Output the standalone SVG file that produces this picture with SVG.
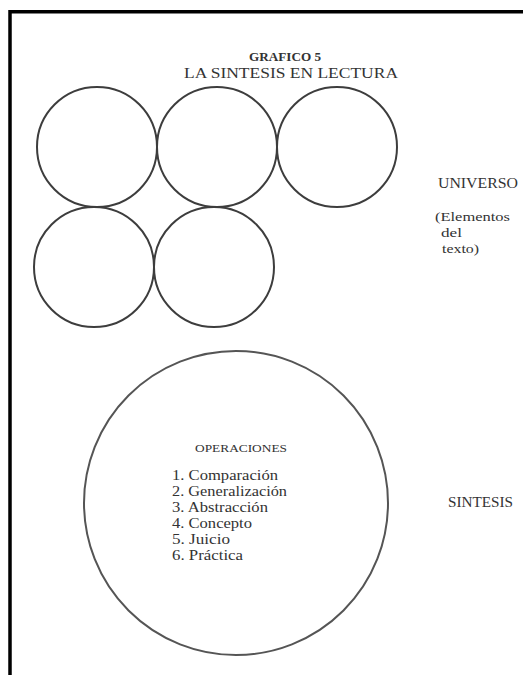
<svg xmlns="http://www.w3.org/2000/svg" width="523" height="675" viewBox="0 0 523 675">
<style>
.t{font-family:"Liberation Serif","Times New Roman",serif;fill:#333}
.c{fill:none;stroke:#3d3d3d;stroke-width:2}
.big{fill:none;stroke:#555;stroke-width:2}
.frame{fill:none;stroke:#000;stroke-width:3.5}
</style>
<rect width="523" height="675" fill="#fff"/>
<path class="frame" d="M10,675 V11.7 H523"/>
<g id="title">
<text class="t" x="285" y="61" text-anchor="middle" font-size="13" font-weight="bold" textLength="72" lengthAdjust="spacingAndGlyphs">GRAFICO 5</text>
<text class="t" x="291" y="78" text-anchor="middle" font-size="15" textLength="214" lengthAdjust="spacingAndGlyphs">LA SINTESIS EN LECTURA</text>
</g>
<g id="connectors"/>
<g id="circle1"><circle class="c" cx="97" cy="147" r="60"/></g>
<g id="circle2"><circle class="c" cx="217" cy="147" r="60"/></g>
<g id="circle3"><circle class="c" cx="337" cy="147" r="60"/></g>
<g id="circle4"><circle class="c" cx="94" cy="267" r="60"/></g>
<g id="circle5"><circle class="c" cx="214" cy="267" r="60"/></g>
<g id="universo">
<text class="t" x="438" y="188" font-size="14" textLength="80" lengthAdjust="spacingAndGlyphs">UNIVERSO</text>
<text class="t" x="435" y="221" font-size="13" textLength="75" lengthAdjust="spacingAndGlyphs">(Elementos</text>
<text class="t" x="441" y="237" font-size="13" textLength="21" lengthAdjust="spacingAndGlyphs">del</text>
<text class="t" x="442" y="253" font-size="13" textLength="37" lengthAdjust="spacingAndGlyphs">texto)</text>
</g>
<g id="sintesis-circle">
<circle class="big" cx="236" cy="503" r="152"/>
<text class="t" x="195" y="452" font-size="10" textLength="92" lengthAdjust="spacingAndGlyphs">OPERACIONES</text>
<text class="t" x="172" y="480" font-size="15" textLength="106" lengthAdjust="spacingAndGlyphs">1. Comparación</text>
<text class="t" x="172" y="496" font-size="15" textLength="115" lengthAdjust="spacingAndGlyphs">2. Generalización</text>
<text class="t" x="172" y="512" font-size="15" textLength="96" lengthAdjust="spacingAndGlyphs">3. Abstracción</text>
<text class="t" x="172" y="528" font-size="15" textLength="80" lengthAdjust="spacingAndGlyphs">4. Concepto</text>
<text class="t" x="172" y="544" font-size="15" textLength="58" lengthAdjust="spacingAndGlyphs">5. Juicio</text>
<text class="t" x="172" y="560" font-size="15" textLength="71" lengthAdjust="spacingAndGlyphs">6. Práctica</text>
</g>
<g id="sintesis-label">
<text class="t" x="448" y="507" font-size="14" textLength="65" lengthAdjust="spacingAndGlyphs">SINTESIS</text>
</g>
</svg>
